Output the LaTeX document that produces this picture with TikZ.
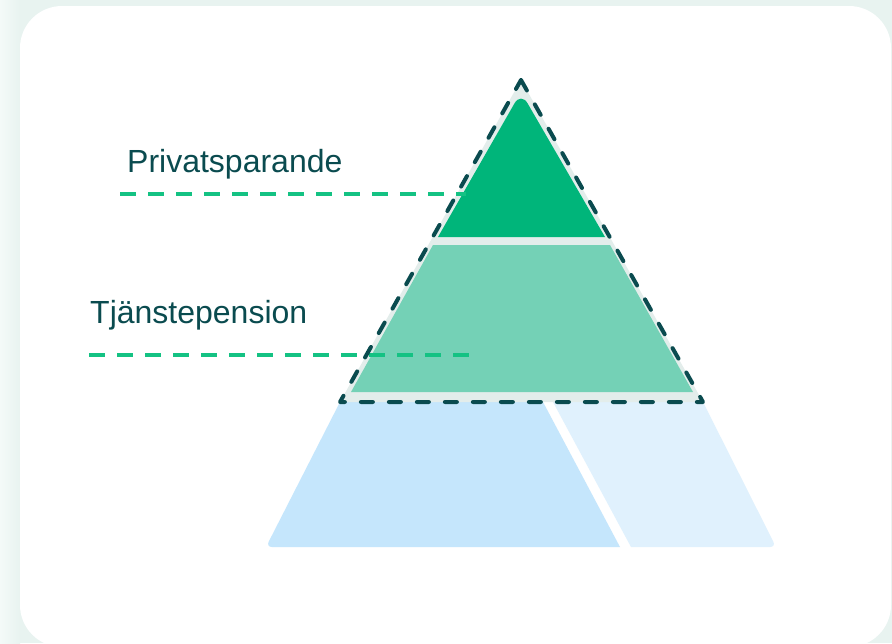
\documentclass[tikz,border=0pt]{standalone}
\usepackage{fontspec}
\setmainfont{Liberation Sans}
\usepackage{xcolor}
\definecolor{mintbg}{HTML}{E8F3F0}
\definecolor{mintlight}{HTML}{F4FAF8}
\definecolor{tealdark}{HTML}{0A4B4F}
\definecolor{greendark}{HTML}{00B57A}
\definecolor{greenlight}{HTML}{74D1B6}
\definecolor{greyband}{HTML}{E3EDEB}
\definecolor{blueleft}{HTML}{C5E6FC}
\definecolor{blueright}{HTML}{E0F1FD}
\definecolor{dashgreen}{HTML}{14C283}
\tikzset{
  leader/.style={draw=dashgreen, line width=3.5pt, dash pattern=on 16pt off 12pt},
  outline/.style={draw=tealdark, line width=4pt, line cap=round, line join=round, dash pattern=on 12pt off 16pt},
  levellabel/.style={anchor=base west, inner sep=0pt, text=tealdark, font=\fontsize{32}{38}\selectfont}
}
\begin{document}
\begin{tikzpicture}[x=1pt,y=-1pt]
        \useasboundingbox (0,0) rectangle (892,643);
        \fill[mintbg] (0,0) rectangle (892,643);
        \shade[left color=mintlight, right color=mintbg] (0,0) rectangle (20,643);
        \fill[white, rounded corners=42pt] (20,6) rectangle (891,647);
        \fill[blueleft] (543,402) -- (340,402) [rounded corners=6pt] -- (266,547) [sharp corners] -- (620,547) -- cycle;
        \fill[blueright] (553,402) -- (703,402) [rounded corners=6pt] -- (776,547) [sharp corners] -- (631,547) -- cycle;
        \fill[greyband] (521,80) -- (703,402) -- (340,402) -- cycle;
        \fill[greendark] (438,237) [rounded corners=13pt] -- (521,92) [sharp corners] -- (605,237) -- cycle;
        \fill[greenlight] (433,245) -- (610,245) -- (693,392) -- (351,392) -- cycle;
        \node[levellabel] (privat) at (127,172) {Privatsparande};
        \node[levellabel] (tjanste) at (90,323) {Tjänstepension};
        \coordinate (privat-a) at (120,194);
        \coordinate (privat-b) at (466,194);
        \coordinate (tjanste-a) at (89,355);
        \coordinate (tjanste-b) at (470,355);
        \draw[leader] (privat-a) -- (privat-b);
        \draw[leader] (tjanste-a) -- (tjanste-b);
        \coordinate (top) at (521,80);
        \coordinate (left) at (340,402);
        \coordinate (right) at (703,402);
        \draw[outline] (top) -- (right) -- (left) -- cycle;
    \end{tikzpicture}
\end{document}
